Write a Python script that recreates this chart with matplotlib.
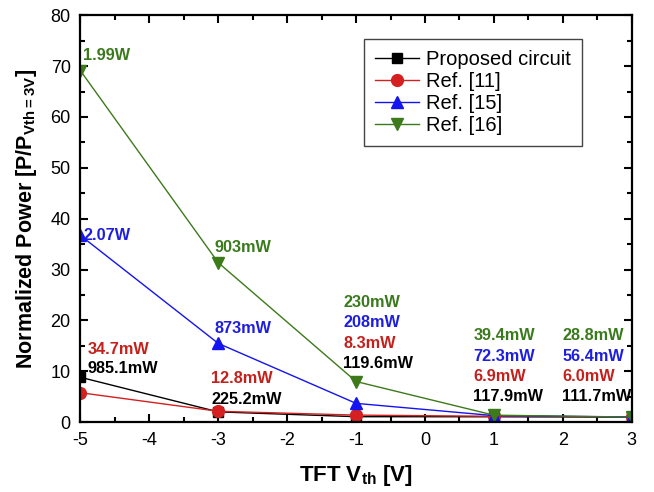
import numpy as np
import matplotlib.pyplot as plt

plt.rcParams['font.family'] = ['Liberation Sans', 'DejaVu Sans']
plt.rcParams['mathtext.fontset'] = 'custom'
plt.rcParams['mathtext.rm'] = 'Liberation Sans'
plt.rcParams['mathtext.bf'] = 'Liberation Sans:bold'
plt.rcParams['axes.unicode_minus'] = False

vth = [-5, -3, -1, 1, 3]

# power consumption in mW for each circuit
p_proposed = [985.1, 225.2, 119.6, 117.9, 111.7]
p_ref11 = [34.7, 12.8, 8.3, 6.9, 6.0]
p_ref15 = [2070, 873, 208, 72.3, 56.4]
p_ref16 = [1990, 903, 230, 39.4, 28.8]

lbl_proposed = ['985.1mW', '225.2mW', '119.6mW', '117.9mW', '111.7mW']
lbl_ref11 = ['34.7mW', '12.8mW', '8.3mW', '6.9mW', '6.0mW']
lbl_ref15 = ['2.07W', '873mW', '208mW', '72.3mW', '56.4mW']
lbl_ref16 = ['1.99W', '903mW', '230mW', '39.4mW', '28.8mW']

names = ['Proposed circuit', 'Ref. [11]', 'Ref. [15]', 'Ref. [16]']

c_black = 'black'
c_red = '#d42020'
c_blue = '#1414f0'
c_green = '#3c7a1a'
t_red = '#c4201c'
t_blue = '#1e1ee0'
t_green = '#3a7a1c'


def norm(p):
    p = np.array(p, dtype=float)
    return p / p[-1]


fig = plt.figure(figsize=(6.54, 4.92), dpi=100)
ax = fig.add_axes([0.123, 0.142, 0.843, 0.827])

ax.plot(vth, norm(p_proposed), '-s', color=c_black, lw=1, ms=7, label=names[0])
ax.plot(vth, norm(p_ref11), '-o', color=c_red, lw=1, ms=8.5, label=names[1])
ax.plot(vth, norm(p_ref15), '-^', color=c_blue, lw=1, ms=8.5, label=names[2])
ax.plot(vth, norm(p_ref16), '-v', color=c_green, lw=1, ms=8.5, label=names[3])

# value labels next to each point
fs = 11.7
kw = dict(fontsize=fs, fontweight='bold', va='center', ha='left')
ax.text(-4.96, 72.1, lbl_ref16[0], color=t_green, **kw)
ax.text(-4.96, 36.6, lbl_ref15[0], color=t_blue, **kw)
ax.text(-4.90, 14.2, lbl_ref11[0], color=t_red, **kw)
ax.text(-4.90, 10.6, lbl_proposed[0], color=c_black, **kw)

ax.text(-3.06, 34.3, lbl_ref16[1], color=t_green, **kw)
ax.text(-3.06, 18.5, lbl_ref15[1], color=t_blue, **kw)
ax.text(-3.10, 8.5, lbl_ref11[1], color=t_red, **kw)
ax.text(-3.10, 4.5, lbl_proposed[1], color=c_black, **kw)

for x0, i in [(-1.19, 2), (0.70, 3), (1.99, 4)]:
    top = 23.6 if i == 2 else 17.1
    ax.text(x0, top, lbl_ref16[i], color=t_green, **kw)
    ax.text(x0, top - 4.1, lbl_ref15[i], color=t_blue, **kw)
    ax.text(x0, top - 8.1, lbl_ref11[i], color=t_red, **kw)
    ax.text(x0, top - 12.1, lbl_proposed[i], color=c_black, **kw)

ax.set_xlim(-5, 3)
ax.set_ylim(0, 80)
ax.set_xticks(range(-5, 4))
ax.set_xticks(np.arange(-5, 3.01, 0.5), minor=True)
ax.set_yticks(range(0, 81, 10))
ax.set_yticks(range(0, 81, 5), minor=True)
ax.tick_params(which='both', direction='in', top=True, right=True, width=1.5)
ax.tick_params(which='major', length=6, labelsize=13, pad=7)
ax.tick_params(which='minor', length=3.5)
for s in ax.spines.values():
    s.set_linewidth(1.6)

ax.set_xlabel(r'TFT V$_{\mathbf{th}}$ [V]', fontsize=16, fontweight='bold', labelpad=10)
ax.set_ylabel(r'Normalized Power [P/P$_{\mathbf{Vth=3V}}$]', fontsize=15.5, fontweight='bold', labelpad=8)

leg = ax.legend(loc='upper right', bbox_to_anchor=(0.91, 0.942), borderaxespad=0,
                fontsize=14.5, fancybox=False, edgecolor='#444444', framealpha=1,
                handlelength=2.2, handletextpad=0.35, borderpad=0.55, labelspacing=0.15)
leg.get_frame().set_linewidth(1)

fig.savefig('out.png', dpi=100)
